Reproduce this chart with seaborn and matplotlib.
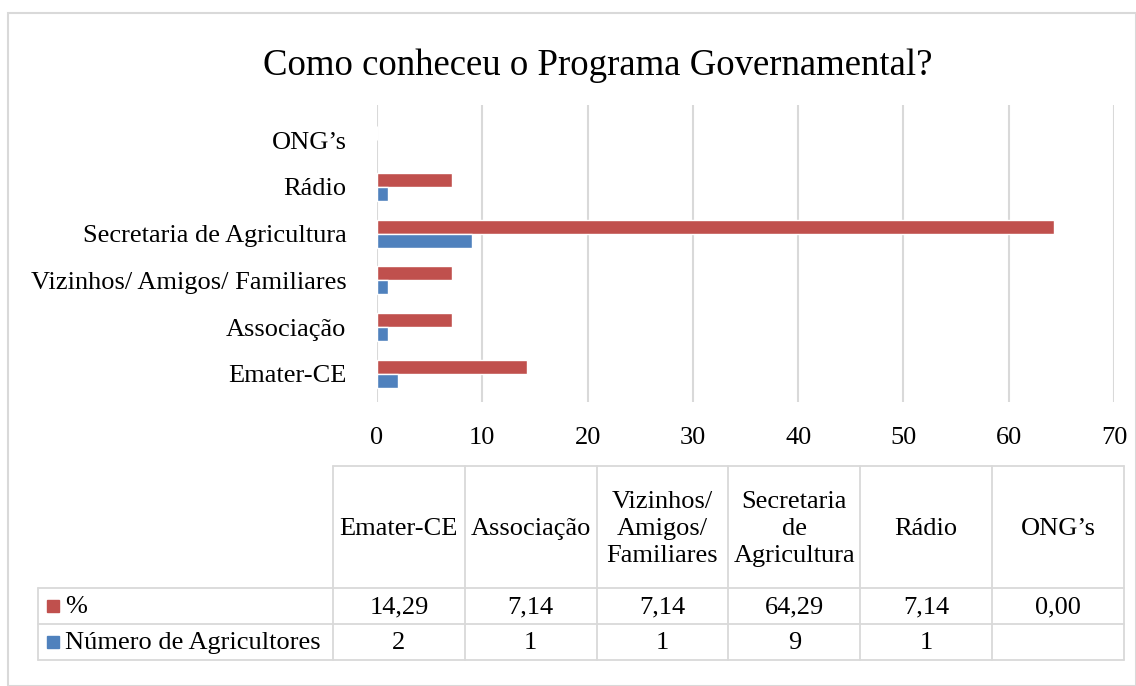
import numpy as np
import pandas as pd
import matplotlib
matplotlib.use('Agg')
import matplotlib.pyplot as plt
import seaborn as sns
from matplotlib.lines import Line2D
from matplotlib.patches import Rectangle

# data (table order, left to right)
categories = ['Emater-CE', 'Associação', 'Vizinhos/ Amigos/ Familiares',
              'Secretaria de Agricultura', 'Rádio', 'ONG\u2019s']
header_labels = ['Emater-CE', 'Associação', 'Vizinhos/\nAmigos/\nFamiliares',
                 'Secretaria\nde\nAgricultura', 'Rádio', 'ONG\u2019s']
pct = [14.29, 7.14, 7.14, 64.29, 7.14, 0.00]
num_agric = [2, 1, 1, 9, 1, np.nan]
series_names = ['%', 'Número de Agricultores']
colors = ['#C0504D', '#4F81BD']

df = pd.DataFrame({
    'cat': categories * 2,
    'serie': [series_names[0]] * 6 + [series_names[1]] * 6,
    'val': pct + num_agric,
})

sns.set_style('white')
plt.rcParams['font.family'] = ['Liberation Serif', 'DejaVu Serif']
plt.rcParams['text.color'] = 'black'
plt.rcParams['xtick.color'] = 'black'
plt.rcParams['ytick.color'] = 'black'

FS = 19
W, H = 1136, 686
fig = plt.figure(figsize=(W / 100, H / 100), dpi=100)

# background layer in pixel coords
bg = fig.add_axes([0, 0, 1, 1])
bg.set_xlim(0, W)
bg.set_ylim(H, 0)
bg.axis('off')
bg.add_patch(Rectangle((8, 13), W - 8, H - 13, fill=False,
                       edgecolor='#D9D9D9', lw=1.5))

# bar chart
x0, x1, y0, y1 = 377, 1114, 105, 402
ax = fig.add_axes([x0 / W, 1 - y1 / H, (x1 - x0) / W, (y1 - y0) / H])
order = categories[::-1]
sns.barplot(data=df, y='cat', x='val', hue='serie', order=order,
            hue_order=series_names, palette=colors, orient='h',
            width=0.6, ax=ax, legend=False, saturation=1)
ax.set_xlim(0, 70)
ax.set_xticks(range(0, 71, 10))
ax.set_ylim(5.6, -0.75)
ax.set_xlabel('')
ax.set_ylabel('')
ax.grid(axis='x', color='#D9D9D9', lw=1.5)
ax.set_axisbelow(True)
for s in ax.spines.values():
    s.set_visible(False)
ax.tick_params(axis='both', length=0, labelsize=FS)
ax.tick_params(axis='x', pad=18)
ax.tick_params(axis='y', pad=22)

fig.text(598 / W, 1 - 66 / H, 'Como conheceu o Programa Governamental?',
         ha='center', va='center', fontsize=26.5)

# data table
col_x = [333 + 131.8 * i for i in range(7)]
row_y = [466, 588, 624, 660]
left = 38
lc = '#D9D9D9'
lw = 1.3
bg.add_line(Line2D([col_x[0], col_x[-1]], [row_y[0], row_y[0]], color=lc, lw=lw))
for yy in row_y[1:]:
    bg.add_line(Line2D([left, col_x[-1]], [yy, yy], color=lc, lw=lw))
for xx in col_x:
    bg.add_line(Line2D([xx, xx], [row_y[0], row_y[-1]], color=lc, lw=lw))
bg.add_line(Line2D([left, left], [row_y[1], row_y[-1]], color=lc, lw=lw))

for i, lab in enumerate(header_labels):
    cx = (col_x[i] + col_x[i + 1]) / 2
    bg.text(cx, 529, lab, ha='center', va='center', fontsize=FS,
            linespacing=1.3)
    bg.text(cx, 607, f'{pct[i]:.2f}'.replace('.', ','), ha='center',
            va='center', fontsize=FS)
    if not np.isnan(num_agric[i]):
        bg.text(cx, 643, str(int(num_agric[i])), ha='center', va='center',
                fontsize=FS)

for j, (name, c) in enumerate(zip(series_names, colors)):
    cy = (row_y[j + 1] + row_y[j + 2]) / 2
    bg.add_patch(Rectangle((47, cy - 6), 12, 12, color=c))
    bg.text(65, cy + 1, name, ha='left', va='center', fontsize=FS)

fig.savefig('out.png', dpi=100)
